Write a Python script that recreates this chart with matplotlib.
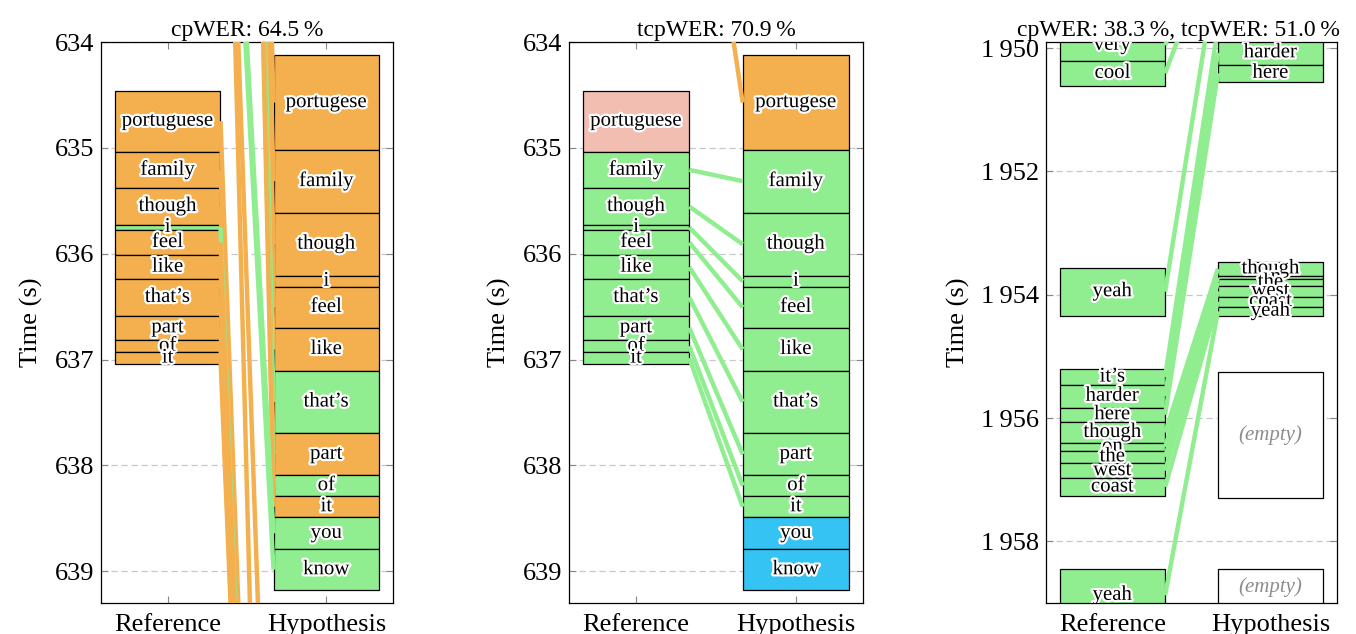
import matplotlib
matplotlib.use('Agg')
import matplotlib.pyplot as plt
import matplotlib.patheffects as pe
from matplotlib.patches import Rectangle
from matplotlib.ticker import FuncFormatter

plt.rcParams['font.family'] = ['Liberation Serif', 'DejaVu Serif']

colors = {'ok': '#90EE90', 'sub': '#F4B04E', 'del': '#F2BEB2', 'ins': '#35C3F4'}

# words of the first segment (same words for cpWER and tcpWER views)
ref_words = ['portuguese', 'family', 'though', 'i', 'feel', 'like', 'that\u2019s', 'part', 'of', 'it']
ref_edges = [634.461, 635.035, 635.381, 635.728, 635.775, 636.014, 636.241, 636.585, 636.815, 636.931, 637.042]
hyp_words = ['portugese', 'family', 'though', 'i', 'feel', 'like', 'that\u2019s', 'part', 'of', 'it', 'you', 'know']
hyp_edges = [634.127, 635.018, 635.611, 636.210, 636.311, 636.704, 637.105, 637.697, 638.094, 638.290,
             638.492, 638.792, 639.180]

# cpWER alignment: partners are ints (index in other column) or times outside the window
cp_ref_status = ['sub', 'sub', 'sub', 'ok', 'sub', 'sub', 'sub', 'sub', 'sub', 'sub']
cp_hyp_status = ['sub', 'sub', 'sub', 'sub', 'sub', 'sub', 'ok', 'sub', 'ok', 'sub', 'ok', 'ok']
cp_ref_partner = [648.3, 648.4, 648.5, 648.6, 648.7, 648.8, 648.9, 649.0, 649.1, 649.2]
cp_hyp_partner = [615.0, 615.1, 615.2, 615.3, 615.4, 615.5, 615.6, 615.7, 615.8, 615.9, 629.4, 629.6]
cp_extra = [(628.7, 647.8, 'sub'), (629.2, 643.5, 'sub')]

# tcpWER alignment
tcp_ref_status = ['del', 'ok', 'ok', 'ok', 'ok', 'ok', 'ok', 'ok', 'ok', 'ok']
tcp_hyp_status = ['sub', 'ok', 'ok', 'ok', 'ok', 'ok', 'ok', 'ok', 'ok', 'ok', 'ins', 'ins']
tcp_ref_partner = [None, 1, 2, 3, 4, 5, 6, 7, 8, 9]
tcp_hyp_partner = [631.2] + [None] * 11

# second segment, 1950-1959 s
ref3_words = ['very', 'cool', 'yeah', 'it\u2019s', 'harder', 'here', 'though', 'on', 'the', 'west', 'coast', 'yeah']
ref3_start = [1949.70, 1950.206, 1953.559, 1955.207, 1955.462, 1955.830, 1956.062, 1956.407, 1956.527,
              1956.732, 1956.975, 1958.451]
ref3_end = [1950.206, 1950.612, 1954.342, 1955.462, 1955.830, 1956.062, 1956.407, 1956.527, 1956.732,
            1956.975, 1957.262, 1959.30]
ref3_status = ['ok'] * 12
ref3_partner = [1947.7, 1948.15, 1948.57, 0, 1, 2, 3, 4, 5, 6, 7, 8]
hyp3_words = ['it\u2019s', 'harder', 'here', 'though', 'on', 'the', 'west', 'coast', 'yeah']
hyp3_start = [1949.45, 1949.88, 1950.271, 1953.471, 1953.689, 1953.747, 1953.856, 1954.029, 1954.191]
hyp3_end = [1949.88, 1950.271, 1950.542, 1953.689, 1953.747, 1953.856, 1954.029, 1954.191, 1954.342]
hyp3_status = ['ok'] * 9
hyp3_partner = [None] * 9
empty3_start = [1955.25, 1958.45]
empty3_end = [1957.30, 1959.05]

titles = ['cpWER: 64.5\u2009%', 'tcpWER: 70.9\u2009%', 'cpWER: 38.3\u2009%, tcpWER: 51.0\u2009%']

HALF = 0.333
LW = 3.2
outline = [pe.withStroke(linewidth=3.2, foreground='white')]


def draw_column(ax, xc, words, starts, ends, status):
    for w, s, e, st in zip(words, starts, ends, status):
        ax.add_patch(Rectangle((xc - HALF, s), 2 * HALF, e - s, facecolor=colors[st],
                               edgecolor='black', lw=0.9, zorder=2))
        ax.text(xc, (s + e) / 2, w, ha='center', va='center', fontsize=15, zorder=5,
                path_effects=outline, clip_on=True)


def draw_links(ax, ref_mid, hyp_mid, ref_status, hyp_status, ref_partner, hyp_partner, extra=()):
    for t, st, p in zip(ref_mid, ref_status, ref_partner):
        if p is None:
            continue
        tp = hyp_mid[p] if isinstance(p, int) else p
        ax.plot([HALF, 1 - HALF], [t, tp], color=colors[st], lw=LW, zorder=3, solid_capstyle='butt')
    for t, st, p in zip(hyp_mid, hyp_status, hyp_partner):
        if p is None:
            continue
        tp = ref_mid[p] if isinstance(p, int) else p
        ax.plot([HALF, 1 - HALF], [tp, t], color=colors[st], lw=LW, zorder=3, solid_capstyle='butt')
    for tr, th, st in extra:
        ax.plot([HALF, 1 - HALF], [tr, th], color=colors[st], lw=LW, zorder=3, solid_capstyle='butt')


def style_axes(ax, title, ylim, title_x=0.5):
    ax.set_xlim(-0.42, 1.42)
    ax.set_ylim(*ylim)
    ax.set_xticks([0, 1])
    ax.set_xticklabels(['Reference', 'Hypothesis'])
    ax.tick_params(direction='in', top=True, right=True, color='#888888', length=5, width=0.8,
                   labelsize=19, pad=5)
    ax.tick_params(axis='x', pad=8)
    ax.yaxis.grid(True, linestyle=(0, (5, 3)), color='#c8c8c8', lw=0.9)
    ax.set_axisbelow(True)
    ax.set_ylabel('Time (s)', fontsize=19, labelpad=8)
    ax.set_title(title, fontsize=17, pad=4, x=title_x)
    for sp in ax.spines.values():
        sp.set_linewidth(0.9)


fig = plt.figure(figsize=(13.56, 6.34), dpi=100)
bottom, height = 31 / 634, 561 / 634
axes = [fig.add_axes([101 / 1356, bottom, 292 / 1356, height]),
        fig.add_axes([569 / 1356, bottom, 294 / 1356, height]),
        fig.add_axes([1046 / 1356, bottom, 291 / 1356, height])]

ref_mid = [(a + b) / 2 for a, b in zip(ref_edges[:-1], ref_edges[1:])]
hyp_mid = [(a + b) / 2 for a, b in zip(hyp_edges[:-1], hyp_edges[1:])]

# cpWER view
ax = axes[0]
draw_column(ax, 0, ref_words, ref_edges[:-1], ref_edges[1:], cp_ref_status)
draw_column(ax, 1, hyp_words, hyp_edges[:-1], hyp_edges[1:], cp_hyp_status)
draw_links(ax, ref_mid, hyp_mid, cp_ref_status, cp_hyp_status, cp_ref_partner, cp_hyp_partner, cp_extra)
style_axes(ax, titles[0], (639.3, 634.0))

# tcpWER view
ax = axes[1]
draw_column(ax, 0, ref_words, ref_edges[:-1], ref_edges[1:], tcp_ref_status)
draw_column(ax, 1, hyp_words, hyp_edges[:-1], hyp_edges[1:], tcp_hyp_status)
draw_links(ax, ref_mid, hyp_mid, tcp_ref_status, tcp_hyp_status, tcp_ref_partner, tcp_hyp_partner)
style_axes(ax, titles[1], (639.3, 634.0))

# second segment
ax = axes[2]
ref3_mid = [(a + b) / 2 for a, b in zip(ref3_start, ref3_end)]
hyp3_mid = [(a + b) / 2 for a, b in zip(hyp3_start, hyp3_end)]
draw_column(ax, 0, ref3_words, ref3_start, ref3_end, ref3_status)
draw_column(ax, 1, hyp3_words, hyp3_start, hyp3_end, hyp3_status)
for s, e in zip(empty3_start, empty3_end):
    ax.add_patch(Rectangle((1 - HALF, s), 2 * HALF, e - s, facecolor='white', edgecolor='black',
                           lw=0.9, zorder=2))
    ax.text(1, (s + e) / 2, '(empty)', ha='center', va='center', fontsize=15, style='italic',
            color='#8c8c8c', zorder=5, clip_on=True)
draw_links(ax, ref3_mid, hyp3_mid, ref3_status, hyp3_status, ref3_partner, hyp3_partner)
style_axes(ax, titles[2], (1959.0, 1949.9), title_x=0.455)
ax.set_yticks([1950, 1952, 1954, 1956, 1958])
ax.yaxis.set_major_formatter(FuncFormatter(lambda v, _: f'{int(v) // 1000}\u2009{int(v) % 1000:03d}'))

fig.savefig('out.png', dpi=100)
